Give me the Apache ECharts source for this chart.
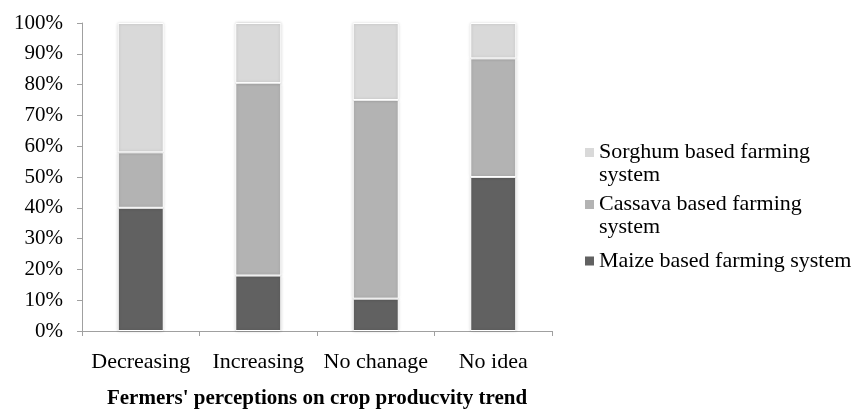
<!DOCTYPE html>
<html>
<head>
<meta charset="utf-8">
<script src="https://cdn.jsdelivr.net/npm/echarts@6/dist/echarts.min.js"></script>
<style>
  html, body { margin: 0; padding: 0; background: #fff; }
  #chart { width: 858px; height: 409px; }
</style>
</head>
<body>
<div id="chart"></div>
<script>
// Farmers' perceptions on crop productivity trend, share of each farming system (%)
const categories = ['Decreasing', 'Increasing', 'No chanage', 'No idea'];
const maize   = [40, 18, 10.5, 50];
const cassava = [18, 62.5, 64.5, 38.5];
const sorghum = [42, 19.5, 25, 11.5];
const yTicks  = [0, 10, 20, 30, 40, 50, 60, 70, 80, 90, 100];

const seriesNames = {
  maize: 'Maize based farming system',
  cassava: 'Cassava based farming system',
  sorghum: 'Sorghum based farming system'
};
const colors = { maize: '#616161', cassava: '#b3b3b3', sorghum: '#d9d9d9' };

const serif = "'Liberation Serif', 'Times New Roman', serif";

// Legend icons: square sits level with the first text line of each item
const iconTop = 'path://M0,0L0.01,0M0,0h9v9h-9ZM0,32L0.01,32';
const iconMid = 'path://M0,0L0.01,0M0,11.5h9v9h-9ZM0,32L0.01,32';

function barSeries(key, values) {
  return {
    name: seriesNames[key],
    type: 'bar',
    stack: 'total',
    barWidth: 46,
    data: values,
    itemStyle: {
      color: colors[key],
      borderColor: '#ffffff',
      borderWidth: 1,
      shadowBlur: 3,
      shadowColor: 'rgba(0,0,0,0.18)'
    }
  };
}

const chart = echarts.init(document.getElementById('chart'), null, { renderer: 'canvas' });
chart.setOption({
  animation: false,
  backgroundColor: '#ffffff',
  grid: { left: 82, right: 306, top: 23, bottom: 78, containLabel: false, outerBoundsMode: 'none' },
  xAxis: {
    type: 'category',
    data: categories,
    boundaryGap: true,
    name: "Fermers' perceptions on crop producvity trend",
    nameLocation: 'middle',
    nameGap: 57,
    nameTextStyle: { fontFamily: serif, fontSize: 21, fontWeight: 'bold', color: '#000' },
    axisLine: { lineStyle: { color: '#a0a0a0', width: 1 } },
    axisTick: { show: true, length: 5, inside: false, interval: 0, lineStyle: { color: '#a0a0a0' } },
    axisLabel: { fontFamily: serif, fontSize: 22, color: '#000', margin: 20, interval: 0 }
  },
  yAxis: {
    type: 'value',
    min: yTicks[0],
    max: yTicks[yTicks.length - 1],
    interval: 10,
    axisLine: { show: true, lineStyle: { color: '#a0a0a0', width: 1 } },
    axisTick: { show: true, length: 5, inside: false, lineStyle: { color: '#a0a0a0' } },
    splitLine: { show: false },
    axisLabel: { fontFamily: serif, fontSize: 21, color: '#000', margin: 19, formatter: '{value}%' }
  },
  legend: {
    orient: 'vertical',
    left: 585,
    top: 141,
    padding: 0,
    itemWidth: 9,
    itemHeight: 32,
    itemGap: 6,
    align: 'left',
    data: [
      { name: seriesNames.sorghum, icon: iconTop },
      { name: seriesNames.cassava, icon: iconTop },
      { name: seriesNames.maize, icon: iconMid }
    ],
    itemStyle: { borderWidth: 0, shadowBlur: 0 },
    textStyle: { fontFamily: serif, fontSize: 22, color: '#000', lineHeight: 23 },
    formatter: function (name) {
      return name === seriesNames.maize ? name : name.replace(' system', '\nsystem');
    }
  },
  series: [
    barSeries('maize', maize),
    barSeries('cassava', cassava),
    barSeries('sorghum', sorghum)
  ]
});
</script>
</body>
</html>
